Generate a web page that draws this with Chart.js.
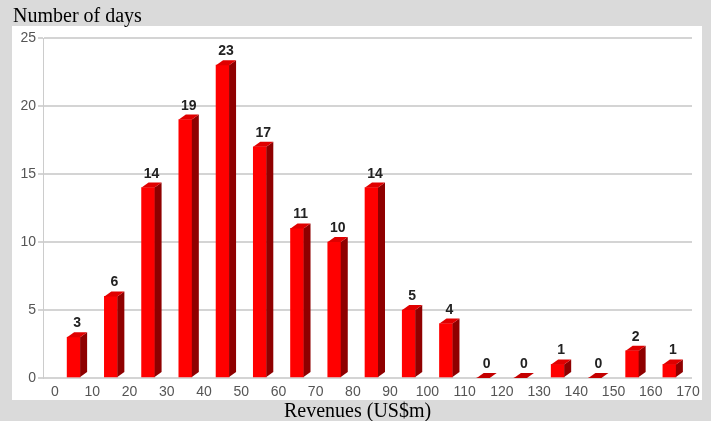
<!DOCTYPE html>
<html><head><meta charset="utf-8">
<script src="https://cdn.jsdelivr.net/npm/chart.js@4"></script>
<style>
html,body{margin:0;padding:0;background:#dadada;width:711px;height:421px;overflow:hidden;}
#panel{position:absolute;left:12px;top:26px;width:690px;height:374px;background:#fff;}
#wrap{position:absolute;left:0;top:0;width:711px;height:421px;}
.t{position:absolute;font-family:"Liberation Serif","Times New Roman",serif;font-size:20px;color:#000;white-space:nowrap;line-height:1;}
#yt{left:13px;top:5px;}
#xt{left:284px;top:400px;}
</style></head><body>
<div id="panel"></div>
<div id="wrap"><canvas id="c" width="711" height="421"></canvas></div>
<div class="t" id="yt">Number of days</div>
<div class="t" id="xt">Revenues (US$m)</div>
<script>
const binStarts = [0,10,20,30,40,50,60,70,80,90,100,110,120,130,140,150,160];
const days = [3,6,14,19,23,17,11,10,14,5,4,0,0,1,0,2,1];
const xTickValues = [0,10,20,30,40,50,60,70,80,90,100,110,120,130,140,150,160,170];
const yTickValues = [0,5,10,15,20,25];

const DX = 7, DY = 5;
const bar3d = {
  id: 'bar3d',
  afterDatasetsDraw(chart) {
    const ctx = chart.ctx;
    const meta = chart.getDatasetMeta(0);
    meta.data.forEach((bar, i) => {
      const p = bar.getProps(['x','y','base','width'], true);
      const l = p.x - p.width/2, r = p.x + p.width/2;
      const tall = p.base - p.y > 0.5;
      ctx.save();
      if (tall) {
        ctx.fillStyle = '#8f0000';
        ctx.beginPath();
        ctx.moveTo(r, p.y);
        ctx.lineTo(r + DX, p.y - DY);
        ctx.lineTo(r + DX, p.base - DY);
        ctx.lineTo(r, p.base);
        ctx.closePath();
        ctx.fill();
      }
      ctx.fillStyle = tall ? '#e00000' : '#c40000';
      ctx.beginPath();
      ctx.moveTo(l, p.y);
      ctx.lineTo(l + DX, p.y - DY);
      ctx.lineTo(r + DX, p.y - DY);
      ctx.lineTo(r, p.y);
      ctx.closePath();
      ctx.fill();
      ctx.font = 'bold 14px "Liberation Sans", Arial, sans-serif';
      ctx.fillStyle = '#222';
      ctx.textAlign = 'center';
      ctx.textBaseline = 'alphabetic';
      ctx.fillText(String(days[i]), p.x + DX/2, p.y - 10);
      ctx.restore();
    });
  }
};

new Chart(document.getElementById('c'), {
  type: 'bar',
  data: {
    datasets: [{
      data: binStarts.map((s, i) => ({x: s + 5, y: days[i]})),
      backgroundColor: '#ff0000',
      borderWidth: 0,
      barThickness: 13
    }]
  },
  options: {
    responsive: false,
    animation: false,
    layout: {padding: {top: 38, right: 19, left: 0, bottom: 0}},
    plugins: {legend: {display: false}, tooltip: {enabled: false}},
    scales: {
      x: {
        type: 'linear',
        offset: false,
        min: -3.223, max: 171.074,
        afterBuildTicks(scale) { scale.ticks = xTickValues.map(v => ({value: v})); },
        afterFit(scale) { scale.height = 43; },
        grid: {display: false, drawTicks: false, offset: false},
        border: {display: false},
        ticks: {padding: 6, color: '#555', font: {family: '"Liberation Sans", Arial, sans-serif', size: 14}, maxRotation: 0, autoSkip: false}
      },
      y: {
        min: 0, max: 25,
        afterBuildTicks(scale) { scale.ticks = yTickValues.map(v => ({value: v})); },
        afterFit(scale) { scale.width = 43; },
        grid: {color: '#d4d4d4', lineWidth: 2, tickLength: 5},
        border: {color: '#cccccc', width: 1},
        ticks: {padding: 2, color: '#555', font: {family: '"Liberation Sans", Arial, sans-serif', size: 14}}
      }
    }
  },
  plugins: [bar3d]
});
</script>
</body></html>
